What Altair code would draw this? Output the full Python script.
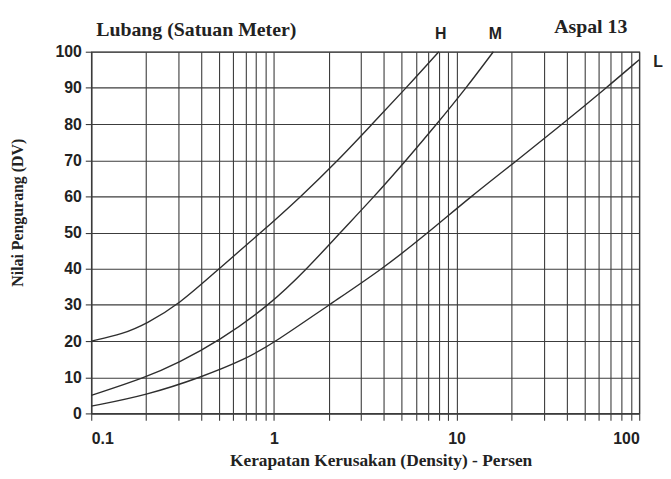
import altair as alt
import pandas as pd

# Curves (density %, deduct value)
H_x = [0.1, 0.15, 0.2, 0.3, 0.5, 0.85, 1.41, 2.25, 3.45, 5.3, 8.0]
H_y = [20, 22, 24.8, 30, 40, 50, 60, 70, 80, 90, 100]

M_x = [0.1, 0.2, 0.3, 0.5, 0.95, 1.52, 2.31, 3.55, 5.3, 7.8, 11.3, 15.9]
M_y = [5, 10, 14, 20, 30, 40, 50, 60, 70, 80, 90, 100]

L_x = [0.1, 0.2, 0.4, 0.7, 1.0, 2.0, 3.95, 7.0, 12.0, 21.5, 38.0, 66.0, 100]
L_y = [2, 5, 10, 15, 19.5, 30, 40, 50, 60, 70, 80, 90, 97.8]

x_grid = [0.1, 0.2, 0.3, 0.4, 0.5, 0.6, 0.7, 0.8, 0.9,
          1, 2, 3, 4, 5, 6, 7, 8, 9,
          10, 20, 30, 40, 50, 60, 70, 80, 90, 100]
y_ticks = [0, 10, 20, 30, 40, 50, 60, 70, 80, 90, 100]

rows = []
for name, xs, ys in (("H", H_x, H_y), ("M", M_x, M_y), ("L", L_x, L_y)):
    for i, (a, b) in enumerate(zip(xs, ys)):
        rows.append({"series": name, "x": a, "y": b, "order": i})
df = pd.DataFrame(rows)

ends = pd.DataFrame([
    {"series": "H", "x": H_x[-1], "y": H_y[-1]},
    {"series": "M", "x": M_x[-1], "y": M_y[-1]},
    {"series": "L", "x": L_x[-1], "y": L_y[-1]},
])

GRID = "#3c3c3c"

xscale = alt.Scale(type="log", domain=[0.1, 100], nice=False)
yscale = alt.Scale(domain=[0, 100], nice=False)

x_axis = alt.Axis(values=x_grid, grid=True, tickSize=7, labelPadding=10,
                  labelExpr="(datum.value==0.1||datum.value==1||datum.value==10||datum.value==100) ? datum.label : ''",
                  format="~g",
                  title="Kerapatan Kerusakan (Density) - Persen",
                  titleX=292, titleY=53, titleBaseline="alphabetic",
                  titleFontSize=17.5)
y_axis = alt.Axis(values=y_ticks, grid=True, tickSize=6, labelPadding=4,
                  title="Nilai Pengurang (DV)",
                  titleX=-74, titleY=162, titleBaseline="middle",
                  titleFontSize=16)

X = alt.X("x:Q", scale=xscale, axis=x_axis)
Y = alt.Y("y:Q", scale=yscale, axis=y_axis)

lines = alt.Chart(df).mark_line(color="#2e2e2e", strokeWidth=1.4, interpolate="basis").encode(
    x=X, y=Y,
    detail="series:N",
    order="order:Q",
)

lab_hm = alt.Chart(ends).transform_filter("datum.series != 'L'").mark_text(
    font="Liberation Sans", fontWeight="bold", fontSize=16, color="#222",
    dy=-18, dx=2, baseline="middle", align="center"
).encode(x=X, y=Y, text="series:N")

lab_l = alt.Chart(ends).transform_filter("datum.series == 'L'").mark_text(
    font="Liberation Sans", fontWeight="bold", fontSize=16, color="#222",
    dx=19, dy=2, baseline="middle", align="center"
).encode(x=X, y=Y, text="series:N")

head_left = alt.Chart(pd.DataFrame({"t": ["Lubang (Satuan Meter)"]})).mark_text(
    font="Liberation Serif", fontWeight="bold", fontSize=20, color="#222",
    align="left", baseline="middle"
).encode(x=alt.value(5), y=alt.value(-22), text="t:N")

head_right = alt.Chart(pd.DataFrame({"t": ["Aspal 13"]})).mark_text(
    font="Liberation Serif", fontWeight="bold", fontSize=20, color="#222",
    align="right", baseline="middle"
).encode(x=alt.value(541), y=alt.value(-25), text="t:N")

chart = alt.layer(lines, lab_hm, lab_l, head_left, head_right).properties(
    width=553, height=365,
    autosize="none",
    padding={"left": 84, "top": 42, "right": 24, "bottom": 56},
    background="white",
).configure_view(stroke=GRID, strokeWidth=1.2).configure_axis(
    gridColor=GRID, gridWidth=1.1, gridOpacity=1,
    domainColor=GRID, domainWidth=1.2,
    tickColor=GRID, tickWidth=1.1,
    labelFont="Liberation Sans", labelFontWeight="bold", labelFontSize=16, labelColor="#222",
    titleFont="Liberation Serif", titleFontWeight="bold", titleColor="#222",
)

chart.save("out.html", embed_options={"renderer": "svg", "actions": False})
